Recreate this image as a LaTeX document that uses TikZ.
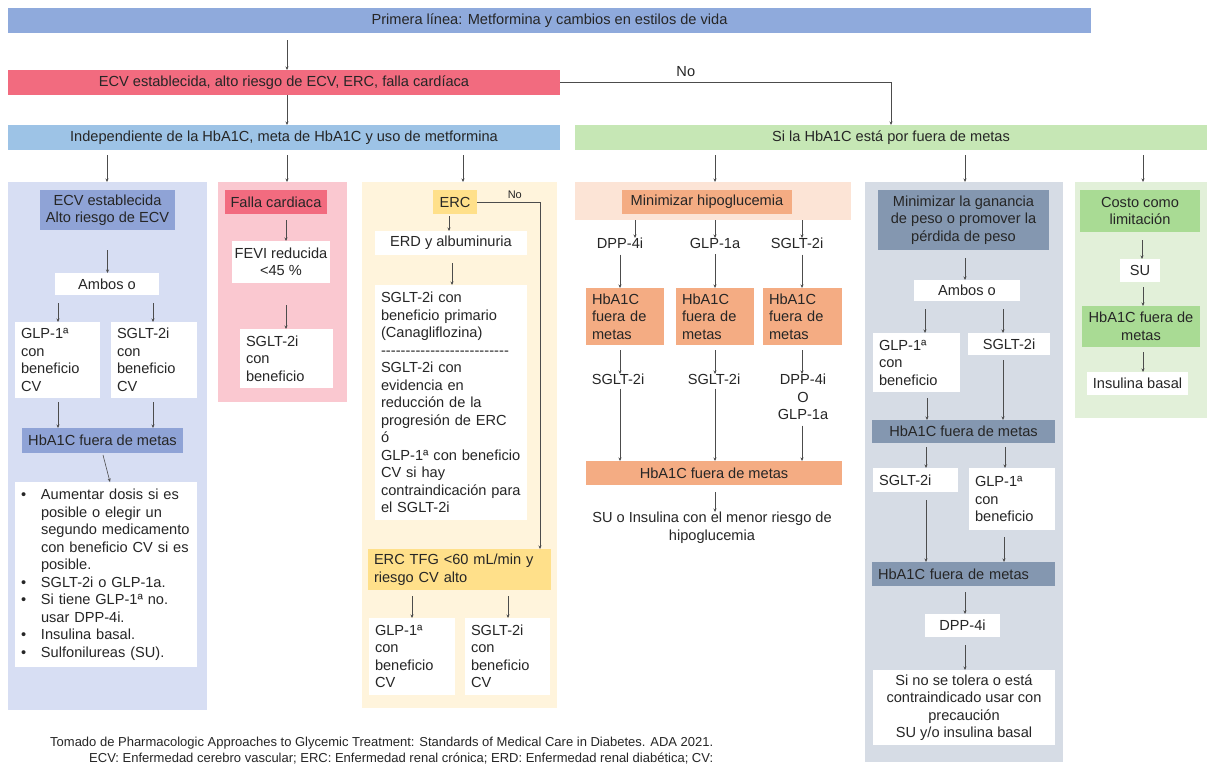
\documentclass[tikz,border=0pt]{standalone}
\usepackage{fontspec}
\setmainfont{Liberation Sans}
\usetikzlibrary{arrows.meta,calc}
\definecolor{ctext}{HTML}{262626}
\definecolor{cTop}{HTML}{8FAADC}
\definecolor{cRed}{HTML}{F26B7F}
\definecolor{cBlue}{HTML}{9DC3E6}
\definecolor{cGreen}{HTML}{C6E7B5}
\definecolor{pA}{HTML}{D7DEF3}
\definecolor{pAd}{HTML}{8FA3D6}
\definecolor{pB}{HTML}{FAC8D0}
\definecolor{pBd}{HTML}{F26B7F}
\definecolor{pC}{HTML}{FFF4DC}
\definecolor{pCd}{HTML}{FFE08A}
\definecolor{pD}{HTML}{FCE4D6}
\definecolor{pDd}{HTML}{F4AC83}
\definecolor{pE}{HTML}{D6DCE5}
\definecolor{pEd}{HTML}{8497B0}
\definecolor{pF}{HTML}{E2F0D9}
\definecolor{pFd}{HTML}{A9DB94}
\newcommand\fs{\fontsize{14.6}{17.5}\selectfont}
\newcommand\fsf{\fontsize{13}{16}\selectfont}
\newcommand\Bx[6]{\node[bx,#1,minimum width=#4pt,minimum height=#5pt] (#6) at (#2,#3)}
\newcommand\Lx[6]{\node[bx,#1,inner xsep=6pt,align=left,text width=#4pt,minimum height=#5pt] (#6) at (#2,#3)}
\newcommand\bul{\makebox[20pt][l]{\textbullet}}
\newcommand\ind{\hspace*{20pt}}
\protected\def\hyline{\leavevmode\hbox to 128pt{\xleaders\hbox{-}\hfil}}
\tikzset{
  bx/.style={anchor=north west, inner sep=0pt, outer sep=0pt, align=center, font=\fs, text=ctext},
  arr/.style={-{Stealth[length=3.5pt,width=3pt]}, draw=black!70, line width=0.6pt},
}
\begin{document}
\begin{tikzpicture}[x=1pt,y=-1pt]
\useasboundingbox[fill=white] (0,0) rectangle (1209,764);
% x guide coordinates
\foreach \n/\v in {a1/107,a2/287,a3/463,g1/715,g2/965,g3/1143,
  b1/58,b2/153,c1/286,d1/449,d2/452,d3/412,d4/508,dno/540,
  e1/635,e2/715,e3/802,f1/620,f2/715,f3/802,
  h1/925,h2/1003,h3/927,h4/1005,h5/926,h6/1004,k1/1142}
  {\coordinate (\n) at (\v,0);}
% bars
\Bx{fill=cTop}{8}{8}{1083}{25}{top}{Primera línea: Metformina y cambios en estilos de vida};
\Bx{fill=cRed}{8}{70}{552}{25}{red}{ECV establecida, alto riesgo de ECV, ERC, falla cardíaca};
\Bx{fill=cBlue}{8}{125}{552}{25}{blue}{Independiente de la HbA1C, meta de HbA1C y uso de metformina};
\Bx{fill=cGreen}{575}{125}{632}{25}{green}{Si la HbA1C está por fuera de metas};
\draw[arr, shorten <=7pt] (top.south -| a2) -- (red.north -| a2);
\draw[arr] (red.south -| a2) -- (blue.north -| a2);
\draw[arr] (red.east) -| (green.north) node[pos=0.19, above=2pt, font=\fs, text=ctext] {No};
% panels
\Bx{fill=pA}{8}{182}{199}{528}{pan1}{};
\Bx{fill=pB}{218}{182}{129}{220}{pan2}{};
\Bx{fill=pC}{362}{182}{195}{526}{pan3}{};
\Bx{fill=pD}{575}{182}{276}{38}{pan4}{};
\Bx{fill=pE}{865}{182}{198}{580}{pan5}{};
\Bx{fill=pF}{1075}{182}{132}{236}{pan6}{};
\foreach \p/\c in {pan1/a1,pan2/a2,pan3/a3}
  \draw[arr, shorten <=5pt] (blue.south -| \c) -- (\p.north -| \c);
\foreach \p/\c in {pan4/g1,pan5/g2,pan6/g3}
  \draw[arr, shorten <=5pt] (green.south -| \c) -- (\p.north -| \c);
% ---- panel 1
\Bx{fill=pAd}{40}{190}{135}{40}{ecv}{ECV establecida\\Alto riesgo de ECV};
\Bx{fill=white}{55}{273}{104}{22}{amb1}{Ambos o};
\Lx{fill=white}{15}{322}{73}{76}{glp1}{GLP-1ª\\con\\beneficio\\CV};
\Lx{fill=white}{111}{322}{74}{76}{sgl1}{SGLT-2i\\con\\beneficio\\CV};
\Bx{fill=pAd}{22}{428}{161}{25}{hb1}{HbA1C fuera de metas};
\Lx{fill=white}{15}{482}{170}{185}{bl}{\bul Aumentar dosis si es\\\ind posible o elegir un\\\ind segundo medicamento\\\ind con beneficio CV si es\\\ind posible.\\\bul SGLT-2i o GLP-1a.\\\bul Si tiene GLP-1ª no.\\\ind usar DPP-4i.\\\bul Insulina basal.\\\bul Sulfonilureas (SU).};
\draw[arr, shorten <=20pt] (ecv.south) -- (amb1.north -| ecv.south);
\draw[arr, shorten <=8pt] (amb1.south -| b1) -- (glp1.north -| b1);
\draw[arr, shorten <=8pt] (amb1.south -| b2) -- (sgl1.north -| b2);
\draw[arr, shorten <=4pt] (glp1.south -| b1) -- (hb1.north -| b1);
\draw[arr, shorten <=4pt] (sgl1.south -| b2) -- (hb1.north -| b2);
\draw[arr, shorten <=2pt] (hb1.south) -- ([xshift=4pt]bl.north);
% ---- panel 2
\Bx{fill=pBd}{225}{190}{102}{24}{fc}{Falla cardiaca};
\Bx{fill=white}{232}{241}{98}{42}{fevi}{FEVI reducida\\<45 \%};
\Lx{fill=white}{240}{329}{81}{59}{sgl2}{SGLT-2i\\con\\beneficio};
\draw[arr, shorten <=6pt] (fc.south -| c1) -- (fevi.north -| c1);
\draw[arr, shorten <=22pt] (fevi.south -| c1) -- (sgl2.north -| c1);
% ---- panel 3
\Bx{fill=pCd}{433}{190}{44}{24}{erc}{ERC};
\Bx{fill=white}{375}{231}{152}{24}{erd}{ERD y albuminuria};
\Lx{fill=white}{375}{285}{140}{235}{big}{SGLT-2i con\\beneficio primario\\(Canagliflozina)\\\hyline\\SGLT-2i con\\evidencia en\\reducción de la\\progresión de ERC\\ó\\GLP-1ª con beneficio\\CV si hay\\contraindicación para\\el SGLT-2i};
\Lx{fill=pCd}{368}{549}{171}{41}{tfg}{ERC TFG <60 mL/min y\\riesgo CV alto};
\Lx{fill=white}{369}{618}{74}{77}{glp3}{GLP-1ª\\con\\beneficio\\CV};
\Lx{fill=white}{465}{618}{73}{77}{sgl3}{SGLT-2i\\con\\beneficio\\CV};
\draw[arr, shorten <=2pt] (erc.south -| d1) -- (erd.north -| d1);
\draw[arr, shorten <=8pt] (erd.south -| d2) -- (big.north -| d2);
\draw[arr] (erc.east) -| (tfg.north -| dno) node[pos=0.3, above=0pt, font=\fontsize{11}{13}\selectfont, text=ctext] {No};
\draw[arr, shorten <=6pt] (tfg.south -| d3) -- (glp3.north -| d3);
\draw[arr, shorten <=6pt] (tfg.south -| d4) -- (sgl3.north -| d4);
% ---- panel 4
\Bx{fill=pDd}{622}{190}{170}{24}{mh}{Minimizar hipoglucemia};
\node[bx, anchor=north] (l1) at (620,238) {DPP-4i};
\node[bx, anchor=north] (l2) at (715,238) {GLP-1a};
\node[bx, anchor=north] (l3) at (797,238) {SGLT-2i};
\Lx{fill=pDd}{586}{288}{66}{57}{o1}{HbA1C\\fuera de\\metas};
\Lx{fill=pDd}{676}{288}{66}{57}{o2}{HbA1C\\fuera de\\metas};
\Lx{fill=pDd}{763}{288}{67}{57}{o3}{HbA1C\\fuera de\\metas};
\node[bx, anchor=north] (m1) at (618,374) {SGLT-2i};
\node[bx, anchor=north] (m2) at (714,374) {SGLT-2i};
\node[bx, anchor=north] (m3) at (803,374) {DPP-4i\\O\\GLP-1a};
\Bx{fill=pDd}{586}{461}{256}{24}{o4}{HbA1C fuera de metas};
\node[bx, anchor=north] (su4) at (712,512) {SU o Insulina con el menor riesgo de\\hipoglucemia};
\draw[arr, shorten <=6pt] (mh.south -| e1) -- (l1.north -| e1);
\draw[arr, shorten <=6pt] (mh.south -| e2) -- (l2.north -| e2);
\draw[arr, shorten <=6pt] (mh.south -| e3) -- (l3.north -| e3);
\draw[arr, shorten <=6pt] (l1.south -| f1) -- (o1.north -| f1);
\draw[arr, shorten <=6pt] (l2.south -| f2) -- (o2.north -| f2);
\draw[arr, shorten <=6pt] (l3.south -| f3) -- (o3.north -| f3);
\draw[arr, shorten <=5pt] (o1.south -| f1) -- (m1.north -| f1);
\draw[arr, shorten <=5pt] (o2.south -| f2) -- (m2.north -| f2);
\draw[arr, shorten <=5pt] (o3.south -| f3) -- (m3.north -| f3);
\draw[arr, shorten <=4pt] (m1.south -| f1) -- (o4.north -| f1);
\draw[arr, shorten <=4pt] (m2.south -| f2) -- (o4.north -| f2);
\draw[arr, shorten <=6pt] (m3.south -| f3) -- (o4.north -| f3);
\draw[arr, shorten <=7pt] (o4.south -| g1) -- (su4.north -| g1);
% ---- panel 5
\Bx{fill=pEd}{878}{190}{171}{60}{mg}{Minimizar la ganancia\\de peso o promover la\\pérdida de peso};
\Bx{fill=white}{914}{280}{106}{21}{amb5}{Ambos o};
\Lx{fill=white}{873}{333}{75}{59}{glp5}{GLP-1ª\\con\\beneficio};
\Bx{fill=white}{968}{333}{82}{22}{sgl5}{SGLT-2i};
\Bx{fill=pEd}{872}{420}{183}{23}{hb5}{HbA1C fuera de metas};
\Lx{fill=white}{873}{468}{73}{24}{sgl5b}{SGLT-2i};
\Lx{fill=white}{969}{468}{74}{62}{glp5b}{GLP-1ª\\con\\beneficio};
\Lx{fill=pEd}{872}{562}{171}{24}{hb5b}{HbA1C fuera de metas};
\Bx{fill=white}{925}{614}{75}{23}{dpp5}{DPP-4i};
\Bx{fill=white}{873}{670}{182}{75}{fin5}{Si no se tolera o está\\contraindicado usar con\\precaución\\SU y/o insulina basal};
\draw[arr, shorten <=8pt] (mg.south -| g2) -- (amb5.north -| g2);
\draw[arr, shorten <=8pt] (amb5.south -| h1) -- (glp5.north -| h1);
\draw[arr, shorten <=8pt] (amb5.south -| h2) -- (sgl5.north -| h2);
\draw[arr, shorten <=6pt] (glp5.south -| h3) -- (hb5.north -| h3);
\draw[arr, shorten <=5pt] (sgl5.south -| h2) -- (hb5.north -| h2);
\draw[arr, shorten <=4pt] (hb5.south -| h5) -- (sgl5b.north -| h5);
\draw[arr, shorten <=4pt] (hb5.south -| h4) -- (glp5b.north -| h4);
\draw[arr, shorten <=8pt] (sgl5b.south -| h5) -- (hb5b.north -| h5);
\draw[arr, shorten <=7pt] (glp5b.south -| h6) -- (hb5b.north -| h6);
\draw[arr, shorten <=6pt] (hb5b.south -| g2) -- (dpp5.north -| g2);
\draw[arr, shorten <=8pt] (dpp5.south -| g2) -- (fin5.north -| g2);
% ---- panel 6
\Bx{fill=pFd}{1080}{190}{120}{42}{costo}{Costo como\\limitación};
\Bx{fill=white}{1120}{259}{40}{23}{su6}{SU};
\Bx{fill=pFd}{1082}{306}{118}{41}{hb6}{HbA1C fuera de\\metas};
\Bx{fill=white}{1087}{372}{101}{23}{ins6}{Insulina basal};
\draw[arr, shorten <=8pt] (costo.south -| k1) -- (su6.north -| k1);
\draw[arr, shorten <=5pt] (su6.south -| g3) -- (hb6.north -| g3);
\draw[arr, shorten <=5pt] (hb6.south -| g3) -- (ins6.north -| g3);
% footer
\node[anchor=west, font=\fsf, text=ctext, inner sep=0pt] (ft1) at (50,743) {Tomado de Pharmacologic Approaches to Glycemic Treatment: Standards of Medical Care in Diabetes. ADA 2021.};
\node[anchor=west, font=\fsf, text=ctext, inner sep=0pt] (ft2) at (89,759) {ECV: Enfermedad cerebro vascular; ERC: Enfermedad renal crónica; ERD: Enfermedad renal diabética; CV:};
\end{tikzpicture}
\end{document}
